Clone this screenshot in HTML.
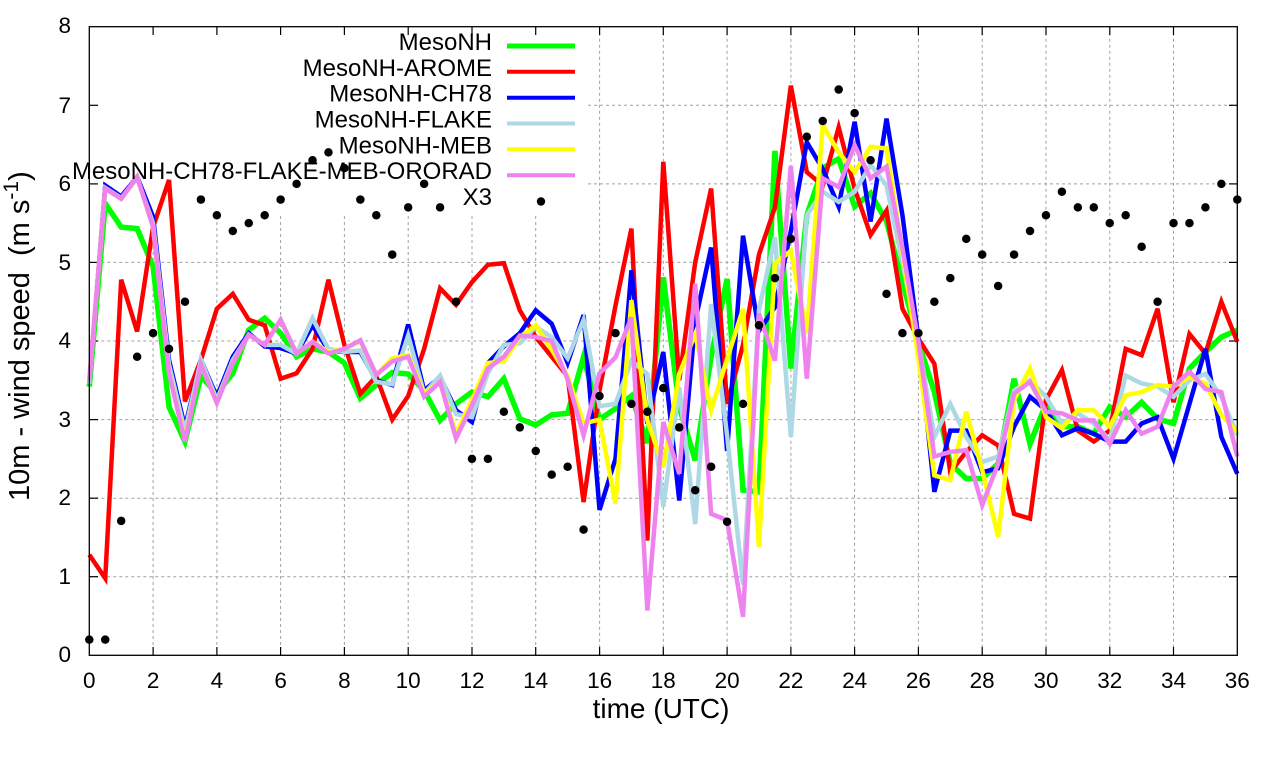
<!DOCTYPE html>
<html>
<head>
<meta charset="utf-8">
<style>
html,body{margin:0;padding:0;background:#fff;}
svg{display:block;font-family:"Liberation Sans",Arial,sans-serif;}
</style>
</head>
<body>
<svg width="1280" height="760" viewBox="0 0 1280 760" xmlns="http://www.w3.org/2000/svg">
<rect width="1280" height="760" fill="#fff"/>

<!-- grid -->
<g stroke="#a0a0a0" stroke-width="1" stroke-dasharray="3,3" fill="none">
  <line x1="89.3" y1="576.7" x2="1237.3" y2="576.7"/>
  <line x1="89.3" y1="498.2" x2="1237.3" y2="498.2"/>
  <line x1="89.3" y1="419.6" x2="1237.3" y2="419.6"/>
  <line x1="89.3" y1="341.0" x2="1237.3" y2="341.0"/>
  <line x1="89.3" y1="262.4" x2="1237.3" y2="262.4"/>
  <line x1="588" y1="183.9" x2="1237.3" y2="183.9"/>
  <line x1="588" y1="105.3" x2="1237.3" y2="105.3"/>
  <line x1="153.1" y1="216" x2="153.1" y2="655.3"/>
  <line x1="216.9" y1="216" x2="216.9" y2="655.3"/>
  <line x1="280.6" y1="216" x2="280.6" y2="655.3"/>
  <line x1="344.4" y1="216" x2="344.4" y2="655.3"/>
  <line x1="408.2" y1="216" x2="408.2" y2="655.3"/>
  <line x1="472.0" y1="216" x2="472.0" y2="655.3"/>
  <line x1="535.7" y1="216" x2="535.7" y2="655.3"/>
  <line x1="599.6" y1="26.7" x2="599.6" y2="655.3"/>
  <line x1="663.3" y1="26.7" x2="663.3" y2="655.3"/>
  <line x1="727.1" y1="26.7" x2="727.1" y2="655.3"/>
  <line x1="790.9" y1="26.7" x2="790.9" y2="655.3"/>
  <line x1="854.6" y1="26.7" x2="854.6" y2="655.3"/>
  <line x1="918.4" y1="26.7" x2="918.4" y2="655.3"/>
  <line x1="982.2" y1="26.7" x2="982.2" y2="655.3"/>
  <line x1="1046.0" y1="26.7" x2="1046.0" y2="655.3"/>
  <line x1="1109.8" y1="26.7" x2="1109.8" y2="655.3"/>
  <line x1="1173.5" y1="26.7" x2="1173.5" y2="655.3"/>
</g>

<!-- ticks -->
<g stroke="#000" stroke-width="1.2">
  <line x1="89.3" y1="576.7" x2="98" y2="576.7"/><line x1="1237.3" y1="576.7" x2="1229" y2="576.7"/>
  <line x1="89.3" y1="498.2" x2="98" y2="498.2"/><line x1="1237.3" y1="498.2" x2="1229" y2="498.2"/>
  <line x1="89.3" y1="419.6" x2="98" y2="419.6"/><line x1="1237.3" y1="419.6" x2="1229" y2="419.6"/>
  <line x1="89.3" y1="341.0" x2="98" y2="341.0"/><line x1="1237.3" y1="341.0" x2="1229" y2="341.0"/>
  <line x1="89.3" y1="262.4" x2="98" y2="262.4"/><line x1="1237.3" y1="262.4" x2="1229" y2="262.4"/>
  <line x1="89.3" y1="183.9" x2="98" y2="183.9"/><line x1="1237.3" y1="183.9" x2="1229" y2="183.9"/>
  <line x1="89.3" y1="105.3" x2="98" y2="105.3"/><line x1="1237.3" y1="105.3" x2="1229" y2="105.3"/>
  <line x1="153.1" y1="655.3" x2="153.1" y2="647"/><line x1="153.1" y1="26.7" x2="153.1" y2="35"/>
  <line x1="216.9" y1="655.3" x2="216.9" y2="647"/><line x1="216.9" y1="26.7" x2="216.9" y2="35"/>
  <line x1="280.6" y1="655.3" x2="280.6" y2="647"/><line x1="280.6" y1="26.7" x2="280.6" y2="35"/>
  <line x1="344.4" y1="655.3" x2="344.4" y2="647"/><line x1="344.4" y1="26.7" x2="344.4" y2="35"/>
  <line x1="408.2" y1="655.3" x2="408.2" y2="647"/><line x1="408.2" y1="26.7" x2="408.2" y2="35"/>
  <line x1="472.0" y1="655.3" x2="472.0" y2="647"/><line x1="472.0" y1="26.7" x2="472.0" y2="35"/>
  <line x1="535.7" y1="655.3" x2="535.7" y2="647"/><line x1="535.7" y1="26.7" x2="535.7" y2="35"/>
  <line x1="599.6" y1="655.3" x2="599.6" y2="647"/><line x1="599.6" y1="26.7" x2="599.6" y2="35"/>
  <line x1="663.3" y1="655.3" x2="663.3" y2="647"/><line x1="663.3" y1="26.7" x2="663.3" y2="35"/>
  <line x1="727.1" y1="655.3" x2="727.1" y2="647"/><line x1="727.1" y1="26.7" x2="727.1" y2="35"/>
  <line x1="790.9" y1="655.3" x2="790.9" y2="647"/><line x1="790.9" y1="26.7" x2="790.9" y2="35"/>
  <line x1="854.6" y1="655.3" x2="854.6" y2="647"/><line x1="854.6" y1="26.7" x2="854.6" y2="35"/>
  <line x1="918.4" y1="655.3" x2="918.4" y2="647"/><line x1="918.4" y1="26.7" x2="918.4" y2="35"/>
  <line x1="982.2" y1="655.3" x2="982.2" y2="647"/><line x1="982.2" y1="26.7" x2="982.2" y2="35"/>
  <line x1="1046.0" y1="655.3" x2="1046.0" y2="647"/><line x1="1046.0" y1="26.7" x2="1046.0" y2="35"/>
  <line x1="1109.8" y1="655.3" x2="1109.8" y2="647"/><line x1="1109.8" y1="26.7" x2="1109.8" y2="35"/>
  <line x1="1173.5" y1="655.3" x2="1173.5" y2="647"/><line x1="1173.5" y1="26.7" x2="1173.5" y2="35"/>
</g>

<!-- tick labels -->
<g font-size="22.5" fill="#000" text-anchor="end">
  <text x="71" y="662">0</text>
  <text x="71" y="584">1</text>
  <text x="71" y="505">2</text>
  <text x="71" y="427">3</text>
  <text x="71" y="348">4</text>
  <text x="71" y="270">5</text>
  <text x="71" y="191">6</text>
  <text x="71" y="113">7</text>
  <text x="71" y="33">8</text>
</g>
<g font-size="22.5" fill="#000" text-anchor="middle">
  <text x="89.3" y="688">0</text>
  <text x="153.1" y="688">2</text>
  <text x="216.9" y="688">4</text>
  <text x="280.6" y="688">6</text>
  <text x="344.4" y="688">8</text>
  <text x="408.2" y="688">10</text>
  <text x="472.0" y="688">12</text>
  <text x="535.7" y="688">14</text>
  <text x="599.6" y="688">16</text>
  <text x="663.3" y="688">18</text>
  <text x="727.1" y="688">20</text>
  <text x="790.9" y="688">22</text>
  <text x="854.6" y="688">24</text>
  <text x="918.4" y="688">26</text>
  <text x="982.2" y="688">28</text>
  <text x="1046.0" y="688">30</text>
  <text x="1109.8" y="688">32</text>
  <text x="1173.5" y="688">34</text>
  <text x="1237.3" y="688">36</text>
</g>

<!-- axis labels -->
<text x="661" y="718" font-size="28" text-anchor="middle" fill="#000">time (UTC)</text>
<text transform="translate(29,501) rotate(-90)" font-size="29" fill="#000" xml:space="preserve">10m - wind speed  (m s<tspan font-size="21" dy="-11">-1</tspan><tspan dy="11">)</tspan></text>

<!-- data -->
<g transform="translate(89.3,655.3) scale(31.8889,-78.575)" fill="none" stroke-linejoin="miter">
<polyline vector-effect="non-scaling-stroke" stroke="#00ff00" stroke-width="5.5" points="0,3.42 0.5,5.75 1,5.45 1.5,5.43 2,4.95 2.5,3.16 3,2.72 3.5,3.55 4,3.33 4.5,3.59 5,4.14 5.5,4.29 6,4.1 6.5,3.8 7,3.9 7.5,3.86 8,3.72 8.5,3.27 9,3.44 9.5,3.6 10,3.58 10.5,3.37 11,2.99 11.5,3.2 12,3.35 12.5,3.29 13,3.52 13.5,3.01 14,2.93 14.5,3.06 15,3.08 15.5,3.8 16,3.0 16.5,3.14 17,3.3 17.5,2.7 18,4.81 18.5,3.16 19,2.48 19.5,3.8 20,4.79 20.5,2.1 21,2.08 21.5,6.42 22,3.65 22.5,5.6 23,6.2 23.5,6.32 24,5.71 24.5,5.88 25,5.52 25.5,4.75 26,3.99 26.5,3.35 27,2.44 27.5,2.25 28,2.25 28.5,2.44 29,3.52 29.5,2.69 30,3.2 30.5,2.91 31,2.91 31.5,2.82 32,3.16 32.5,3.03 33,3.22 33.5,3.01 34,2.95 34.5,3.65 35,3.86 35.5,4.05 36,4.14"/>
<polyline vector-effect="non-scaling-stroke" stroke="#ff0000" stroke-width="4.5" points="0,1.28 0.5,0.98 1,4.78 1.5,4.12 2,5.45 2.5,6.05 3,3.23 3.5,3.76 4,4.41 4.5,4.6 5,4.27 5.5,4.2 6,3.52 6.5,3.59 7,3.9 7.5,4.78 8,3.95 8.5,3.33 9,3.55 9.5,3.0 10,3.3 10.5,3.9 11,4.67 11.5,4.46 12,4.75 12.5,4.97 13,4.99 13.5,4.39 14,4.05 14.5,3.8 15,3.55 15.5,1.95 16,3.37 16.5,4.45 17,5.43 17.5,1.46 18,6.28 18.5,3.5 19,5.0 19.5,5.94 20,3.2 20.5,3.95 21,5.1 21.5,5.7 22,7.25 22.5,6.15 23,5.98 23.5,6.72 24,5.94 24.5,5.35 25,5.66 25.5,4.41 26,4.03 26.5,3.71 27,2.33 27.5,2.59 28,2.8 28.5,2.67 29,1.8 29.5,1.74 30,3.25 30.5,3.63 31,2.86 31.5,2.72 32,2.86 32.5,3.9 33,3.82 33.5,4.41 34,3.22 34.5,4.09 35,3.84 35.5,4.5 36,3.99"/>
<polyline vector-effect="non-scaling-stroke" stroke="#0000ff" stroke-width="4.5" points="0,3.45 0.5,5.98 1,5.84 1.5,6.09 2,5.58 2.5,3.76 3,2.9 3.5,3.76 4,3.29 4.5,3.8 5,4.1 5.5,3.93 6,3.91 6.5,3.84 7,4.2 7.5,3.88 8,3.86 8.5,3.86 9,3.5 9.5,3.44 10,4.21 10.5,3.37 11,3.54 11.5,3.12 12,2.97 12.5,3.72 13,3.93 13.5,4.1 14,4.39 14.5,4.22 15,3.72 15.5,4.33 16,1.85 16.5,2.5 17,4.9 17.5,2.95 18,3.86 18.5,1.97 19,4.25 19.5,5.19 20,2.6 20.5,5.34 21,4.13 21.5,4.43 22,5.4 22.5,6.53 23,6.19 23.5,5.71 24,6.79 24.5,5.52 25,6.83 25.5,5.6 26,4.03 26.5,2.08 27,2.86 27.5,2.86 28,2.33 28.5,2.38 29,2.91 29.5,3.29 30,3.12 30.5,2.8 31,2.89 31.5,2.82 32,2.72 32.5,2.72 33,2.95 33.5,3.03 34,2.5 34.5,3.2 35,3.9 35.5,2.78 36,2.31"/>
<polyline vector-effect="non-scaling-stroke" stroke="#add8e6" stroke-width="4.5" points="0,3.45 0.5,5.95 1,5.82 1.5,6.07 2,5.5 2.5,3.7 3,2.85 3.5,3.76 4,3.25 4.5,3.76 5,4.08 5.5,3.95 6,3.95 6.5,3.84 7,4.29 7.5,3.9 8,3.86 8.5,3.88 9,3.48 9.5,3.45 10,4.07 10.5,3.33 11,3.56 11.5,3.07 12,3.03 12.5,3.59 13,3.95 13.5,3.97 14,4.18 14.5,4.05 15,3.78 15.5,4.27 16,3.17 16.5,3.2 17,3.75 17.5,3.58 18,1.89 18.5,3.41 19,1.67 19.5,4.47 20,2.8 20.5,0.9 21,4.4 21.5,5.32 22,2.78 22.5,5.6 23,5.9 23.5,5.77 24,5.9 24.5,6.24 25,5.98 25.5,5.0 26,3.99 26.5,2.78 27,3.2 27.5,2.78 28,2.46 28.5,2.53 29,3.37 29.5,3.5 30,3.29 30.5,2.95 31,3.08 31.5,2.95 32,2.74 32.5,3.56 33,3.46 33.5,3.42 34,3.29 34.5,3.5 35,3.58 35.5,3.29 36,2.8"/>
<polyline vector-effect="non-scaling-stroke" stroke="#ffff00" stroke-width="4.5" points="0,3.5 0.5,5.94 1,5.81 1.5,6.09 2,5.45 2.5,3.6 3,2.75 3.5,3.7 4,3.22 4.5,3.72 5,4.08 5.5,3.95 6,4.27 6.5,3.84 7,3.99 7.5,3.86 8,3.9 8.5,4.0 9,3.57 9.5,3.78 10,3.82 10.5,3.33 11,3.48 11.5,2.82 12,3.25 12.5,3.72 13,3.74 13.5,4.05 14,4.2 14.5,3.89 15,3.55 15.5,2.95 16,3.0 16.5,1.93 17,4.52 17.5,2.99 18,2.4 18.5,3.58 19,4.09 19.5,3.12 20,3.77 20.5,4.41 21,1.38 21.5,4.98 22,5.15 22.5,4.1 23,6.75 23.5,6.4 24,6.15 24.5,6.47 25,6.45 25.5,5.13 26,3.78 26.5,2.29 27,2.23 27.5,3.1 28,2.36 28.5,1.51 29,3.25 29.5,3.65 30,3.03 30.5,2.89 31,3.12 31.5,3.12 32,2.91 32.5,3.31 33,3.35 33.5,3.44 34,3.42 34.5,3.54 35,3.46 35.5,3.06 36,2.84"/>
<polyline vector-effect="non-scaling-stroke" stroke="#ee82ee" stroke-width="4.5" points="0,3.5 0.5,5.94 1,5.81 1.5,6.09 2,5.45 2.5,3.59 3,2.72 3.5,3.7 4,3.21 4.5,3.72 5,4.08 5.5,3.95 6,4.27 6.5,3.84 7,3.99 7.5,3.84 8,3.9 8.5,4.01 9,3.57 9.5,3.74 10,3.8 10.5,3.29 11,3.48 11.5,2.76 12,3.18 12.5,3.65 13,3.8 13.5,4.07 14,4.05 14.5,4.0 15,3.51 15.5,2.8 16,3.59 16.5,3.79 17,4.3 17.5,0.57 18,2.97 18.5,2.31 19,4.73 19.5,1.8 20,1.72 20.5,0.49 21,4.35 21.5,3.75 22,6.23 22.5,3.52 23,6.07 23.5,5.96 24,6.49 24.5,6.07 25,6.22 25.5,5.18 26,3.99 26.5,2.53 27,2.59 27.5,2.61 28,1.91 28.5,2.44 29,3.33 29.5,3.48 30,3.1 30.5,3.08 31,2.99 31.5,2.99 32,2.69 32.5,3.12 33,2.82 33.5,2.91 34,3.42 34.5,3.61 35,3.39 35.5,3.35 36,2.53"/>
<path vector-effect="non-scaling-stroke" stroke="#000" stroke-width="8.5" stroke-linecap="round" d="M0,0.2h0M0.5,0.2h0M1,1.71h0M1.5,3.8h0M2,4.1h0M2.5,3.9h0M3,4.5h0M3.5,5.8h0M4,5.6h0M4.5,5.4h0M5,5.5h0M5.5,5.6h0M6,5.8h0M6.5,6.0h0M7,6.3h0M7.5,6.4h0M8,6.2h0M8.5,5.8h0M9,5.6h0M9.5,5.1h0M10,5.7h0M10.5,6.0h0M11,5.7h0M11.5,4.5h0M12,2.5h0M12.5,2.5h0M13,3.1h0M13.5,2.9h0M14,2.6h0M14.5,2.3h0M15,2.4h0M15.5,1.6h0M16,3.3h0M16.5,4.1h0M17,3.2h0M17.5,3.1h0M18,3.4h0M18.5,2.9h0M19,2.1h0M19.5,2.4h0M20,1.7h0M20.5,3.2h0M21,4.2h0M21.5,4.8h0M22,5.3h0M22.5,6.6h0M23,6.8h0M23.5,7.2h0M24,6.9h0M24.5,6.3h0M25,4.6h0M25.5,4.1h0M26,4.1h0M26.5,4.5h0M27,4.8h0M27.5,5.3h0M28,5.1h0M28.5,4.7h0M29,5.1h0M29.5,5.4h0M30,5.6h0M30.5,5.9h0M31,5.7h0M31.5,5.7h0M32,5.5h0M32.5,5.6h0M33,5.2h0M33.5,4.5h0M34,5.5h0M34.5,5.5h0M35,5.7h0M35.5,6.0h0M36,5.8h0"/>
</g>

<!-- legend -->
<g font-size="24" fill="#000" text-anchor="end">
  <text x="492" y="50">MesoNH</text>
  <text x="492" y="75.8">MesoNH-AROME</text>
  <text x="492" y="101.7">MesoNH-CH78</text>
  <text x="492" y="127.5">MesoNH-FLAKE</text>
  <text x="492" y="153.3">MesoNH-MEB</text>
  <text x="492" y="179.2">MesoNH-CH78-FLAKE-MEB-ORORAD</text>
  <text x="492" y="205">X3</text>
</g>
<g fill="none">
  <line x1="507" y1="46" x2="575" y2="46" stroke="#00ff00" stroke-width="5"/>
  <line x1="507" y1="71.8" x2="575" y2="71.8" stroke="#ff0000" stroke-width="4"/>
  <line x1="507" y1="97.7" x2="575" y2="97.7" stroke="#0000ff" stroke-width="4"/>
  <line x1="507" y1="123.5" x2="575" y2="123.5" stroke="#add8e6" stroke-width="4"/>
  <line x1="507" y1="149.3" x2="575" y2="149.3" stroke="#ffff00" stroke-width="4"/>
  <line x1="507" y1="175.2" x2="575" y2="175.2" stroke="#ee82ee" stroke-width="4"/>
</g>
<circle cx="541" cy="201.5" r="4.2" fill="#000"/>

<!-- border -->
<rect x="89.3" y="26.7" width="1148" height="628.6" fill="none" stroke="#000" stroke-width="1.3"/>
</svg>
</body>
</html>
